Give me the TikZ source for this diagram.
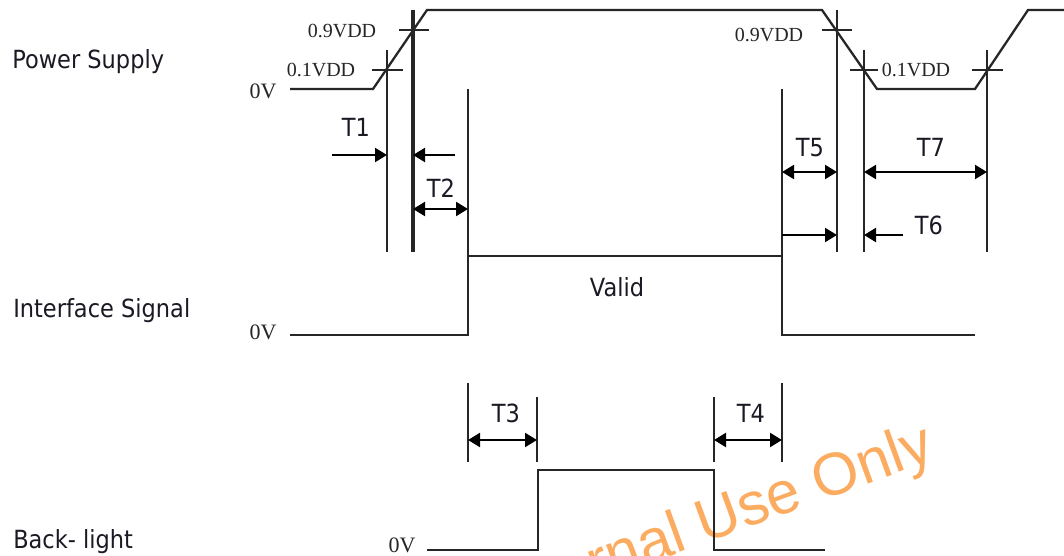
\documentclass[tikz,border=0pt]{standalone}
\usepackage{fontspec}
\usetikzlibrary{arrows.meta}
\newfontfamily\labelfont[FakeStretch=0.9]{DejaVu Sans}
\newfontfamily\valfont{Liberation Serif}
\newfontfamily\wmfont{Liberation Sans}
\definecolor{ink}{HTML}{262626}
\definecolor{txt}{HTML}{1A1A24}
\definecolor{wm}{RGB}{252,172,96}
\tikzset{
  sig/.style={draw=ink, line width=1.7pt, line join=miter},
  guide/.style={draw=ink, line width=1.1pt},
  guidethick/.style={draw=ink, line width=2.3pt},
  tick/.style={draw=ink, line width=1.1pt},
  onearrow/.style={draw=black, line width=1.6pt, -{Triangle[length=9pt,width=10.5pt]}},
  twoarrow/.style={draw=black, line width=1.6pt, {Triangle[length=9pt,width=10.5pt]}-{Triangle[length=9pt,width=10.5pt]}},
  rowlabel/.style={inner sep=0pt, anchor=base west, text=txt, font=\labelfont\fontsize{18.75pt}{20pt}\selectfont},
  tlabel/.style={inner sep=0pt, anchor=base, text=txt, font=\labelfont\fontsize{18.75pt}{20pt}\selectfont},
  vlabel/.style={inner sep=0pt, text=ink, font=\valfont\fontsize{15pt}{16pt}\selectfont},
  zlabel/.style={inner sep=0pt, text=ink, font=\valfont\fontsize{16.5pt}{18pt}\selectfont},
}
\begin{document}
\begin{tikzpicture}[x=0.75pt, y=-0.75pt]
\useasboundingbox (0,0) rectangle (1064,556);
\fill[white] (0,0) rectangle (1064,556);

% watermark
\node[inner sep=0pt, anchor=base east, rotate=20, text=wm, font=\wmfont\fontsize{45pt}{46pt}\selectfont] (wmark) at (937,459) {Internal Use Only};

% ---------- key coordinates ----------
% power supply
\coordinate (p0) at (290,89);
\coordinate (p1) at (373,89);
\coordinate (p2) at (427,10);
\coordinate (p3) at (822,10);
\coordinate (p4) at (877,89);
\coordinate (p5) at (975,89);
\coordinate (p6) at (1028,10);
\coordinate (p7) at (1066,10);
% interface
\coordinate (i0) at (290,335);
\coordinate (i1) at (468,335);
\coordinate (i2) at (468,256);
\coordinate (i3) at (782,256);
\coordinate (i4) at (782,335);
\coordinate (i5) at (975,335);
% backlight
\coordinate (b0) at (427,550);
\coordinate (b1) at (538,550);
\coordinate (b2) at (538,470);
\coordinate (b3) at (714,470);
\coordinate (b4) at (714,550);
\coordinate (b5) at (825,550);

% guide line ends
\coordinate (gA1) at (387,50);  \coordinate (gA2) at (387,252);
\coordinate (gB1) at (413,10);  \coordinate (gB2) at (413,252);
\coordinate (gC1) at (468,89);  \coordinate (gC2) at (468,256);
\coordinate (gD1) at (782,89);  \coordinate (gD2) at (782,256);
\coordinate (gE1) at (837,10);  \coordinate (gE2) at (837,252);
\coordinate (gF1) at (864,50);  \coordinate (gF2) at (864,252);
\coordinate (gG1) at (987,50);  \coordinate (gG2) at (987,252);
\coordinate (gH1) at (468,383); \coordinate (gH2) at (468,462);
\coordinate (gI1) at (537,397); \coordinate (gI2) at (537,462);
\coordinate (gJ1) at (714,397); \coordinate (gJ2) at (714,462);
\coordinate (gK1) at (782,383); \coordinate (gK2) at (782,462);

% ticks
\coordinate (t1a) at (399,30); \coordinate (t1b) at (429,30);
\coordinate (t2a) at (372,70); \coordinate (t2b) at (403,70);
\coordinate (t3a) at (822,30); \coordinate (t3b) at (852,30);
\coordinate (t4a) at (850,70); \coordinate (t4b) at (878,70);
\coordinate (t5a) at (972,70); \coordinate (t5b) at (1003,70);

% arrow ends
\coordinate (aT1s) at (332,155); \coordinate (aT1e) at (387,155);
\coordinate (aT1bs) at (455,155); \coordinate (aT1be) at (413,155);
\coordinate (aT2s) at (413,209); \coordinate (aT2e) at (468,209);
\coordinate (aT5s) at (782,172); \coordinate (aT5e) at (837,172);
\coordinate (aT7s) at (864,172); \coordinate (aT7e) at (987,172);
\coordinate (aT6s) at (782,235); \coordinate (aT6e) at (837,235);
\coordinate (aT6bs) at (903,235); \coordinate (aT6be) at (864,235);
\coordinate (aT3s) at (468,440); \coordinate (aT3e) at (537,440);
\coordinate (aT4s) at (714,440); \coordinate (aT4e) at (782,440);

% ---------- signals ----------
\draw[sig] (p0) -- (p1) -- (p2) -- (p3) -- (p4) -- (p5) -- (p6) -- (p7);
\draw[sig] (i0) -- (i1) -- (i2) -- (i3) -- (i4) -- (i5);
\draw[sig] (b0) -- (b1) -- (b2) -- (b3) -- (b4) -- (b5);

% ---------- guides ----------
\draw[guide] (gA1) -- (gA2);
\draw[guidethick] (gB1) -- (gB2);
\draw[guide] (gC1) -- (gC2);
\draw[guide] (gD1) -- (gD2);
\draw[guide] (gE1) -- (gE2);
\draw[guide] (gF1) -- (gF2);
\draw[guide] (gG1) -- (gG2);
\draw[guide] (gH1) -- (gH2);
\draw[guide] (gI1) -- (gI2);
\draw[guide] (gJ1) -- (gJ2);
\draw[guide] (gK1) -- (gK2);

\draw[tick] (t1a) -- (t1b);
\draw[tick] (t2a) -- (t2b);
\draw[tick] (t3a) -- (t3b);
\draw[tick] (t4a) -- (t4b);
\draw[tick] (t5a) -- (t5b);

% ---------- arrows ----------
\draw[onearrow] (aT1s) -- (aT1e);
\draw[onearrow] (aT1bs) -- (aT1be);
\draw[twoarrow] (aT2s) -- (aT2e);
\draw[twoarrow] (aT5s) -- (aT5e);
\draw[twoarrow] (aT7s) -- (aT7e);
\draw[onearrow] (aT6s) -- (aT6e);
\draw[onearrow] (aT6bs) -- (aT6be);
\draw[twoarrow] (aT3s) -- (aT3e);
\draw[twoarrow] (aT4s) -- (aT4e);

% ---------- labels ----------
\node[rowlabel] (lps) at (12,69) {Power Supply};
\node[rowlabel] (lis) at (13,317) {Interface Signal};
\node[rowlabel] (lbl) at (13,548) {Back- light};
\node[tlabel] (lvalid) at (617,296) {Valid};
\node[tlabel] (lT1) at (356,137) {T1};
\node[tlabel] (lT2) at (441,198) {T2};
\node[tlabel] (lT5) at (810,157) {T5};
\node[tlabel] (lT7) at (931,157) {T7};
\node[tlabel] (lT6) at (929,234) {T6};
\node[tlabel] (lT3) at (506,422) {T3};
\node[tlabel] (lT4) at (751,422) {T4};

\node[vlabel] (v9a) at (342,31) {0.9VDD};
\node[vlabel] (v1a) at (321,70) {0.1VDD};
\node[vlabel] (v9b) at (769,35) {0.9VDD};
\node[vlabel, fill=white, inner xsep=1pt] (v1b) at (916,70) {0.1VDD};
\node[zlabel] (z1) at (263,91) {0V};
\node[zlabel] (z2) at (263,332) {0V};
\node[zlabel] (z3) at (402,545) {0V};
\end{tikzpicture}
\end{document}
